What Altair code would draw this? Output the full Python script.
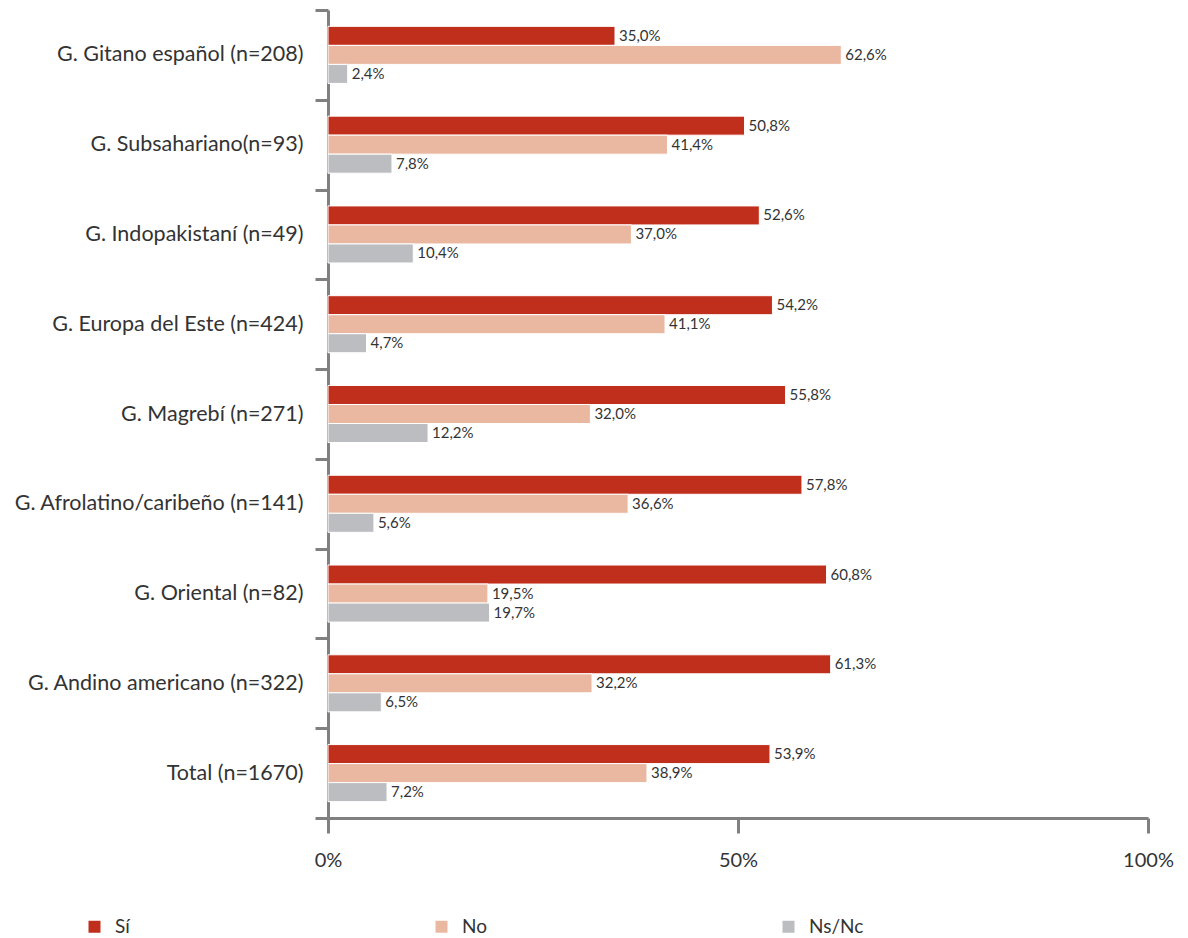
import altair as alt
import pandas as pd

categories = [
    "G. Gitano español (n=208)",
    "G. Subsahariano(n=93)",
    "G. Indopakistaní (n=49)",
    "G. Europa del Este (n=424)",
    "G. Magrebí (n=271)",
    "G. Afrolatino/caribeño (n=141)",
    "G. Oriental (n=82)",
    "G. Andino americano (n=322)",
    "Total (n=1670)",
]
series = ["Sí", "No", "Ns/Nc"]
si = [35.0, 50.8, 52.6, 54.2, 55.8, 57.8, 60.8, 61.3, 53.9]
no = [62.6, 41.4, 37.0, 41.1, 32.0, 36.6, 19.5, 32.2, 38.9]
nsnc = [2.4, 7.8, 10.4, 4.7, 12.2, 5.6, 19.7, 6.5, 7.2]
colors = ["#C02E1C", "#EAB8A0", "#BCBDC1"]
x_ticks = [0, 50, 100]

rows = []
for i, c in enumerate(categories):
    for s, vals in zip(series, [si, no, nsnc]):
        v = vals[i]
        rows.append({"cat": c, "serie": s, "value": v,
                     "label": f"{v:.1f}".replace(".", ",") + "%"})
df = pd.DataFrame(rows)

FONT = "Lato"
TXT = "#333333"
AX = "#808080"

y_enc = alt.Y("cat:N", sort=categories, title=None,
              scale=alt.Scale(paddingInner=0, paddingOuter=0),
              axis=alt.Axis(tickBand="extent", domainColor=AX, domainWidth=3,
                            tickColor=AX, tickWidth=3, tickSize=13,
                            labelFontSize=21.5, labelColor=TXT, labelFont=FONT,
                            labelPadding=12, labelLimit=400))
yoff_enc = alt.YOffset("serie:N", sort=series,
                       scale=alt.Scale(paddingInner=0.0, paddingOuter=0.86))
x_enc = alt.X("value:Q", title=None,
              scale=alt.Scale(domain=[0, 100], nice=False),
              axis=alt.Axis(values=x_ticks, labelExpr="datum.value + '%'",
                            grid=False, domainColor=AX, domainWidth=3,
                            tickColor=AX, tickWidth=3, tickSize=15,
                            labelFontSize=20, labelColor=TXT, labelFont=FONT,
                            labelPadding=17, labelFlush=False, labelAlign="center"))

base = alt.Chart(df)

bars = base.mark_bar(stroke="white", strokeWidth=1).encode(
    x=x_enc,
    y=y_enc,
    yOffset=yoff_enc,
    color=alt.Color("serie:N", sort=series,
                    scale=alt.Scale(domain=series, range=colors),
                    legend=alt.Legend(title=None, orient="none", direction="horizontal",
                                      legendX=-243, legendY=907, columns=3,
                                      gridAlign="all", columnPadding=262,
                                      symbolType="square", symbolSize=144,
                                      symbolStrokeWidth=0, labelOffset=11,
                                      labelFontSize=19, labelFont=FONT,
                                      labelColor=TXT)),
)

text = base.mark_text(align="left", baseline="middle", dx=4, fontSize=15,
                      font=FONT, color=TXT).encode(
    x="value:Q",
    y=alt.Y("cat:N", sort=categories),
    yOffset=alt.YOffset("serie:N", sort=series),
    text="label:N",
)

chart = alt.layer(bars, text).properties(
    width=820, height=808,
    autosize=alt.AutoSizeParams(type="none"),
    padding={"left": 320, "top": 2, "right": 30, "bottom": 120},
).configure_view(stroke=None)

chart.save("out.html", embed_options={"renderer": "svg", "actions": False})
